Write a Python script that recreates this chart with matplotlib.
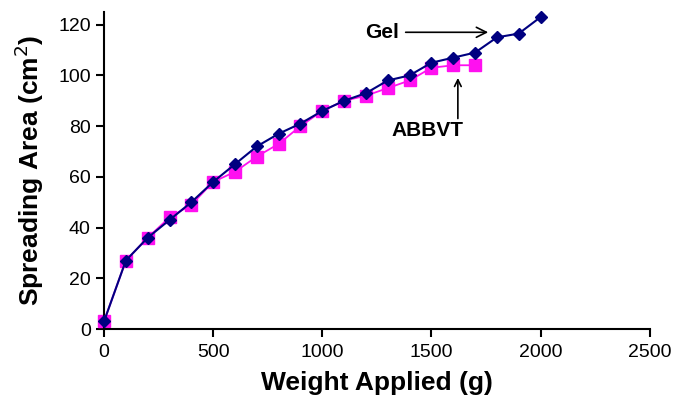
import numpy as np
import matplotlib
matplotlib.use('Agg')
from matplotlib import pyplot as plt

plt.rcParams['font.family'] = ['Liberation Sans', 'DejaVu Sans']

# data
gel_w = [0, 100, 200, 300, 400, 500, 600, 700, 800, 900, 1000,
         1100, 1200, 1300, 1400, 1500, 1600, 1700, 1800, 1900, 2000]
gel_area = [3, 27, 36, 43, 50, 58, 65, 72, 77, 81, 86,
            90, 93, 98, 100, 105, 107, 109, 115, 116.5, 123]
abbvt_w = [0, 100, 200, 300, 400, 500, 600, 700, 800, 900, 1000,
           1100, 1200, 1300, 1400, 1500, 1600, 1700]
abbvt_area = [3, 27, 36, 44, 49, 58, 62, 68, 73, 80, 86,
              90, 92, 95, 98, 103, 104, 104]

fig = plt.figure(figsize=(6.89, 4.0), dpi=100)
ax = fig.add_axes([0.151, 0.1775, 0.792, 0.7925])

ax.plot(gel_w, gel_area, color='#000080', lw=1.5, marker='D', ms=6.5,
        zorder=3, clip_on=False)
ax.plot(abbvt_w, abbvt_area, color='#ff10f0', lw=1.3, marker='s', ms=8,
        zorder=2, clip_on=False)

ax.set_xlim(0, 2500)
ax.set_ylim(0, 125)
ax.set_xticks([0, 500, 1000, 1500, 2000, 2500])
ax.set_yticks([0, 20, 40, 60, 80, 100, 120])
ax.spines['top'].set_visible(False)
ax.spines['right'].set_visible(False)
ax.spines['left'].set_linewidth(1.5)
ax.spines['bottom'].set_linewidth(1.5)
ax.tick_params(direction='out', length=6, width=1.5, labelsize=14)
ax.tick_params(axis='x', pad=5)

ax.set_xlabel('Weight Applied (g)', fontsize=19, fontweight='bold', labelpad=7)
ax.set_ylabel('Spreading Area (cm$^2$)', fontsize=19, fontweight='bold', labelpad=9)

ax.annotate('Gel', xy=(1760, 117), xytext=(1350, 117),
            fontsize=15, fontweight='bold', va='center', ha='right',
            arrowprops=dict(arrowstyle='->', color='black', lw=1.2,
                            mutation_scale=18, shrinkA=3, shrinkB=0))
ax.annotate('ABBVT', xy=(1621, 99), xytext=(1480, 82),
            fontsize=15, fontweight='bold', va='top', ha='center',
            arrowprops=dict(arrowstyle='-', color='black', lw=0, alpha=0))
ax.annotate('', xy=(1621, 99), xytext=(1621, 83),
            arrowprops=dict(arrowstyle='->', color='black', lw=1.2,
                            mutation_scale=12, shrinkA=0, shrinkB=0))

fig.savefig('out.png', dpi=100)
